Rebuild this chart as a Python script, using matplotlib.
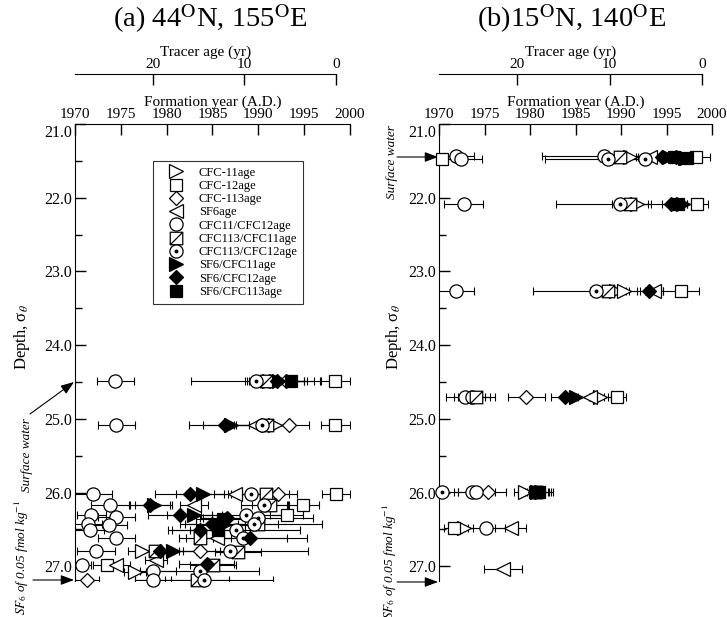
import numpy as np
import matplotlib
matplotlib.use('Agg')
import matplotlib.pyplot as plt
import matplotlib.transforms as mtransforms
from matplotlib.path import Path

plt.rcParams['font.family'] = ['Liberation Serif', 'DejaVu Serif']
plt.rcParams['mathtext.fontset'] = 'stix'

W, H = 727, 617

tracer_names = ['CFC-11age', 'CFC-12age', 'CFC-113age', 'SF6age', 'CFC11/CFC12age',
                'CFC113/CFC11age', 'CFC113/CFC12age', 'SF6/CFC11age', 'SF6/CFC12age',
                'SF6/CFC113age']

# (a) 44N 155E  -- (sigma_theta, formation year, error in yr)
a_cfc11 = [(24.49, 1991.2, 1.5), (25.08, 1991.8, 1.5), (26.79, 1977.3, 1.5),
           (27.08, 1976.5, 1.2)]
a_cfc12 = [(24.49, 1998.4, 1.6), (25.08, 1998.4, 1.6), (26.02, 1998.5, 1.5),
           (26.17, 1994.9, 1.7), (26.31, 1993.1, 1.8), (26.98, 1973.5, 1.5)]
a_cfc113 = [(24.49, 1993.0, 2.0), (25.08, 1993.4, 2.1), (26.02, 1992.2, 2.0),
            (26.79, 1983.6, 2.2), (27.19, 1971.3, 1.3)]
a_sf6 = [(24.49, 1990.5, 2.0), (25.08, 1989.6, 2.0), (26.02, 1987.5, 2.3),
         (26.17, 1983.0, 1.5), (26.62, 1985.5, 1.5), (26.92, 1978.8, 1.2),
         (26.98, 1974.5, 1.5)]
a_r11_12 = [(24.49, 1974.4, 2.0), (25.08, 1974.5, 2.0), (26.02, 1972.0, 2.0),
            (26.17, 1973.8, 2.1), (26.31, 1971.8, 1.6), (26.33, 1974.5, 2.0),
            (26.42, 1971.4, 1.5), (26.44, 1973.7, 2.0), (26.51, 1971.6, 1.6),
            (26.62, 1974.5, 2.0), (26.79, 1972.3, 2.1), (26.98, 1970.8, 1.0),
            (27.07, 1978.5, 2.5), (27.19, 1978.5, 2.0)]
a_r113_11 = [(24.49, 1990.8, 2.0), (25.08, 1991.0, 2.0), (26.02, 1990.8, 2.6),
             (26.17, 1991.3, 2.0), (26.42, 1990.0, 2.2), (26.62, 1983.6, 1.5),
             (26.79, 1978.7, 1.5), (26.80, 1987.8, 2.5), (26.98, 1985.1, 2.5),
             (27.19, 1983.3, 3.5)]
a_r113_12 = [(24.49, 1989.7, 7.0), (25.08, 1990.4, 3.0), (26.02, 1989.2, 2.5),
             (26.17, 1990.6, 2.5), (26.31, 1988.7, 5.0), (26.34, 1990.0, 6.0),
             (26.42, 1989.5, 7.5), (26.51, 1987.6, 7.0), (26.62, 1988.3, 7.0),
             (26.79, 1986.9, 8.5), (27.07, 1983.6, 6.5), (27.19, 1984.1, 7.5)]
a_sf6_11 = [(24.49, 1992.3, 3.0), (25.08, 1987.0, 3.0), (26.02, 1984.0, 3.0),
            (26.17, 1978.6, 2.0), (26.31, 1983.0, 3.0), (26.44, 1986.2, 3.0),
            (26.79, 1980.7, 2.5)]
a_sf6_12 = [(24.49, 1992.0, 3.0), (25.08, 1986.4, 4.0), (26.02, 1982.5, 3.8),
            (26.17, 1978.2, 2.2), (26.31, 1981.5, 3.5), (26.34, 1986.6, 3.0),
            (26.42, 1985.0, 3.5), (26.51, 1983.6, 3.5), (26.62, 1989.1, 4.0),
            (26.79, 1979.3, 2.5), (26.97, 1984.4, 3.0)]
a_sf6_113 = [(24.49, 1993.6, 2.5), (26.36, 1986.2, 3.0), (26.51, 1985.6, 3.0)]

# (b) 15N 140E
b_cfc11 = [(21.45, 1991.0, 1.5), (22.08, 1991.8, 1.5), (23.26, 1989.4, 1.5),
           (23.27, 1990.3, 1.5), (24.71, 1987.7, 1.2), (25.99, 1979.4, 1.2),
           (26.48, 1972.7, 1.0)]
b_cfc12 = [(21.45, 1998.2, 1.6), (21.47, 1970.3, 0.6), (22.08, 1998.4, 1.2),
           (23.26, 1996.6, 2.0), (24.71, 1989.6, 1.0), (25.99, 1980.6, 1.5),
           (26.48, 1971.6, 1.0)]
b_cfc113 = [(21.45, 1996.0, 1.5), (24.71, 1979.6, 2.0), (25.99, 1975.4, 2.0)]
b_sf6 = [(21.45, 1993.2, 1.5), (23.26, 1993.6, 1.0), (24.71, 1986.6, 1.5),
         (26.48, 1977.9, 1.7), (27.04, 1977.0, 2.1)]
b_r11_12 = [(21.43, 1971.9, 2.0), (21.47, 1972.4, 2.3), (21.43, 1988.1, 6.8),
            (22.08, 1972.7, 2.1), (23.26, 1971.9, 2.0), (24.71, 1972.9, 2.1),
            (24.71, 1973.6, 2.0), (25.99, 1973.6, 2.0), (25.99, 1974.1, 2.0),
            (26.48, 1975.2, 2.0)]
b_r113_11 = [(21.45, 1989.9, 2.0), (22.08, 1991.0, 2.0), (23.26, 1988.6, 2.0),
             (24.71, 1974.1, 2.0), (25.99, 1980.7, 1.0)]
b_r113_12 = [(21.47, 1988.6, 7.0), (21.47, 1992.6, 2.0), (22.08, 1989.9, 7.0),
             (23.26, 1987.3, 7.0), (25.99, 1970.3, 1.8)]
b_sf6_11 = [(21.45, 1995.3, 1.5), (21.46, 1997.0, 1.0), (22.08, 1996.8, 1.0),
            (24.71, 1985.1, 1.5), (25.99, 1980.8, 1.5)]
b_sf6_12 = [(21.45, 1994.5, 1.5), (21.46, 1996.5, 1.0), (22.08, 1995.5, 1.0),
            (23.26, 1993.1, 1.0), (24.71, 1983.8, 1.5), (25.99, 1980.5, 1.5)]
b_sf6_113 = [(21.45, 1995.8, 1.5), (21.46, 1997.2, 1.0), (22.08, 1996.3, 1.0),
             (25.99, 1981.0, 1.5)]

panel_a = [a_cfc11, a_cfc12, a_cfc113, a_sf6, a_r11_12, a_r113_11, a_r113_12,
           a_sf6_11, a_sf6_12, a_sf6_113]
panel_b = [b_cfc11, b_cfc12, b_cfc113, b_sf6, b_r11_12, b_r113_11, b_r113_12,
           b_sf6_11, b_sf6_12, b_sf6_113]


def fx(px):
    return px / W


def fy(py):
    return 1 - py / H


# square with a diagonal
slash_sq = Path([(-1, -1), (1, -1), (1, 1), (-1, 1), (-1, -1), (-1, -1), (1, 1)],
                [Path.MOVETO, Path.LINETO, Path.LINETO, Path.LINETO, Path.CLOSEPOLY,
                 Path.MOVETO, Path.LINETO])

styles = [dict(marker='>', mfc='white', ms=9.5),
          dict(marker='s', mfc='white', ms=9),
          dict(marker='D', mfc='white', ms=6.8),
          dict(marker='<', mfc='white', ms=9.5),
          dict(marker='o', mfc='white', ms=9.5),
          dict(marker=slash_sq, mfc='white', ms=9),
          dict(marker='o', mfc='white', ms=9.5),
          dict(marker='>', mfc='k', ms=9.5),
          dict(marker='D', mfc='k', ms=6.8),
          dict(marker='s', mfc='k', ms=9)]

fig = plt.figure(figsize=(W / 100, H / 100), dpi=100)
FS = 11


def draw_panel(ax, series):
    handles = []
    for pts in series:
        d = np.array([p[0] for p in pts])
        yr = np.array([p[1] for p in pts])
        e = np.array([p[2] for p in pts])
        ax.errorbar(yr, d, xerr=e, fmt='none', ecolor='k', elinewidth=0.8,
                    capsize=3, capthick=0.8, zorder=2)
    for name, pts, st in zip(tracer_names, series, styles):
        d = np.array([p[0] for p in pts])
        yr = np.array([p[1] for p in pts])
        h, = ax.plot(yr, d, ls='none', mec='k', mew=0.9, clip_on=False, zorder=3, **st)
        if name == 'CFC113/CFC12age':
            h2, = ax.plot(yr, d, ls='none', marker='o', ms=1.8, mfc='k', mec='k',
                          clip_on=False, zorder=3)
            h = (h, h2)
        handles.append(h)

    ax.set_xlim(1970, 2000)
    ax.set_ylim(27.2, 21.0)
    ax.spines['right'].set_visible(False)
    ax.spines['bottom'].set_visible(False)
    ax.xaxis.tick_top()
    ax.xaxis.set_label_position('top')
    ax.set_xticks(np.arange(1970, 2001, 5))
    ax.tick_params(axis='x', direction='in', length=8, width=1, pad=2, labelsize=FS)
    ax.set_yticks(np.arange(21, 27.1, 1))
    ax.set_yticklabels(['%.1f' % v for v in np.arange(21, 27.1, 1)])
    ax.set_yticks(np.arange(21.5, 27.1, 1), minor=True)
    ax.tick_params(axis='y', which='major', direction='in', length=8, width=1,
                   pad=2, labelsize=11.5)
    ax.tick_params(axis='y', which='minor', direction='in', length=5, width=1)
    ax.set_xlabel('Formation year (A.D.)', fontsize=FS, labelpad=1.5)
    ax.set_ylabel('Depth, σ$_{\\theta}$', fontsize=12)
    # nudge the top depth label below the 1970 label
    top_lab = ax.get_yticklabels()[0]
    top_lab.set_transform(top_lab.get_transform() +
                          mtransforms.ScaledTranslation(0, -5 / 72, fig.dpi_scale_trans))
    return handles


def age_axis(left_px, right_px):
    aa = fig.add_axes([fx(left_px), fy(74), fx(right_px) - fx(left_px), 1e-4])
    aa.set_xlim(28.5, 0)
    aa.patch.set_visible(False)
    for s in ['left', 'right', 'bottom']:
        aa.spines[s].set_visible(False)
    aa.set_yticks([])
    aa.xaxis.tick_top()
    aa.xaxis.set_label_position('top')
    aa.set_xticks([20, 10, 0])
    aa.tick_params(axis='x', direction='in', length=8, width=1, pad=2, labelsize=FS)
    aa.set_xlabel('Tracer age (yr)', fontsize=FS, labelpad=1.5)


ax1 = fig.add_axes([fx(75), fy(581), fx(350) - fx(75), fy(124) - fy(581)])
ax2 = fig.add_axes([fx(439), fy(581), fx(712) - fx(439), fy(124) - fy(581)])

hs = draw_panel(ax1, panel_a)
draw_panel(ax2, panel_b)
ax1.yaxis.set_label_coords(-0.156, 0.534)
ax2.yaxis.set_label_coords(-0.128, 0.534)

age_axis(75, 336)
age_axis(439, 702)

fig.text(fx(210), fy(19), r'(a) 44$^{\mathrm{O}}$N, 155$^{\mathrm{O}}$E', fontsize=20.5,
         ha='center', va='center')
fig.text(fx(572), fy(19), r'(b)15$^{\mathrm{O}}$N, 140$^{\mathrm{O}}$E', fontsize=20.5,
         ha='center', va='center')

leg = ax1.legend(hs, tracer_names, loc='upper left', bbox_to_anchor=(fx(153), fy(161)),
                 bbox_transform=fig.transFigure, frameon=True, fancybox=False,
                 edgecolor='k', fontsize=9, handlelength=2.8, handletextpad=0.4,
                 labelspacing=0.1, borderpad=0.45, borderaxespad=0, numpoints=1)
leg.get_frame().set_linewidth(0.8)
leg.set_zorder(10)

arrow = dict(arrowstyle='-|>,head_length=0.8,head_width=0.3', color='k', lw=0.8,
             shrinkA=0, shrinkB=0)
sf6_txt = r'$SF_6$ of 0.05 fmol kg$^{-1}$'

fig.text(fx(27), fy(455), 'Surface water', rotation=90, style='italic', fontsize=9.5,
         ha='center', va='center')
fig.text(fx(22), fy(557), sf6_txt, rotation=90, style='italic', fontsize=9.5,
         ha='center', va='center')
fig.text(fx(392), fy(162), 'Surface water', rotation=90, style='italic', fontsize=9.5,
         ha='center', va='center')
fig.text(fx(390), fy(561), sf6_txt, rotation=90, style='italic', fontsize=9.5,
         ha='center', va='center')

for tail, head in [((30, 414), (74, 382)), ((33, 580), (74, 580)),
                   ((397, 157), (438, 157)), ((397, 582), (438, 582))]:
    fig.add_artist(matplotlib.patches.FancyArrowPatch(
        (fx(tail[0]), fy(tail[1])), (fx(head[0]), fy(head[1])),
        transform=fig.transFigure, mutation_scale=10, **arrow))

fig.savefig('out.png', dpi=100)
